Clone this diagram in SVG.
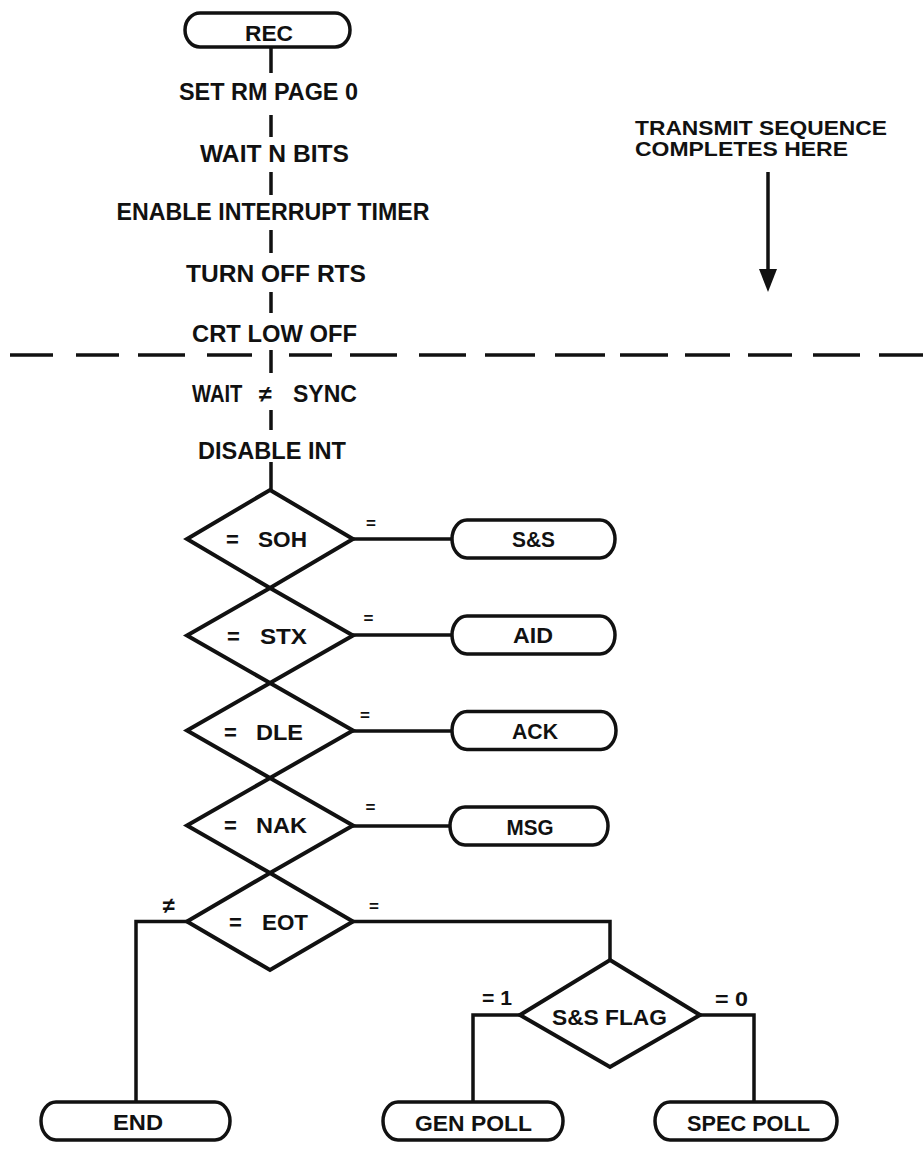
<svg xmlns="http://www.w3.org/2000/svg" width="923" height="1150" viewBox="0 0 923 1150">
<style>
text{font-family:"Liberation Sans",Arial,Helvetica,sans-serif;font-weight:bold;fill:#111;}
.t{font-size:23.5px;text-anchor:middle;}
.n{font-size:22px;text-anchor:middle;}
.d{font-size:22px;}
.s{font-size:17px;text-anchor:middle;}
.term{fill:#fff;stroke:#111;stroke-width:3.5;}
.dia{fill:#fff;stroke:#111;stroke-width:4;stroke-linejoin:miter;}
.ln{fill:none;stroke:#111;stroke-width:3.5;}
</style>
<rect width="923" height="1150" fill="#fff"/>
<g id="separator">
<path class="ln" d="M10 355H53M76 355H119M138 355H185M207 355H252M289 355H332M350 355H397M419 355H466M485 355H535M555 355H605M620 355H668M685 355H730M748 355H792M813 355H860M879 355H923"/>
</g>
<g id="connectors">
<path class="ln" d="M271 47V73M271 115V137M271 172V195M271 230V253M271 292V313M271 350V373M271 410V430M271 462V490"/>
<path class="ln" d="M353 539H452M353 635H452M353 731H452M353 826H450"/>
<path class="ln" d="M353 921.5H610V960"/>
<path class="ln" d="M187 921.5H136V1102"/>
<path class="ln" d="M520 1015H473V1102"/>
<path class="ln" d="M700 1015H754V1102"/>
<path class="ln" d="M768 172V272"/>
<polygon points="759,269 777,269 768,292" fill="#111"/>
<text class="s" x="371" y="529">=</text>
<text class="s" x="368.5" y="624">=</text>
<text class="s" x="365" y="721">=</text>
<text class="s" x="370.5" y="813">=</text>
<text class="s" x="374" y="912">=</text>
<text class="n" x="168.5" y="913">≠</text>
<text x="497" y="1005" style="font-size:20px;text-anchor:middle" textLength="30" lengthAdjust="spacingAndGlyphs">= 1</text>
<text x="731.5" y="1006" style="font-size:20px;text-anchor:middle" textLength="33" lengthAdjust="spacingAndGlyphs">= 0</text>
</g>
<g id="rec"><rect class="term" x="185" y="13" width="165" height="34" rx="15" ry="17"/><text class="n" x="269" y="41" textLength="48" lengthAdjust="spacingAndGlyphs">REC</text></g>
<g id="set-rm"><text class="t" x="268.5" y="100" textLength="179" lengthAdjust="spacingAndGlyphs">SET RM PAGE 0</text></g>
<g id="wait-n"><text class="t" x="274.5" y="162" textLength="149" lengthAdjust="spacingAndGlyphs">WAIT N BITS</text></g>
<g id="enable"><text class="t" x="273" y="220" textLength="313" lengthAdjust="spacingAndGlyphs">ENABLE INTERRUPT TIMER</text></g>
<g id="turn-off"><text class="t" x="276" y="282" textLength="180" lengthAdjust="spacingAndGlyphs">TURN OFF RTS</text></g>
<g id="crt-low"><text class="t" x="274.5" y="342" textLength="165" lengthAdjust="spacingAndGlyphs">CRT LOW OFF</text></g>
<g id="wait-sync"><text class="d" y="402" style="font-size:23.5px"><tspan x="192" textLength="56" lengthAdjust="spacingAndGlyphs">WAIT </tspan><tspan x="259">≠ </tspan><tspan x="293" textLength="64" lengthAdjust="spacingAndGlyphs">SYNC</tspan></text></g>
<g id="disable"><text class="t" x="272" y="459" textLength="148" lengthAdjust="spacingAndGlyphs">DISABLE INT</text></g>
<g id="transmit"><text x="635" y="135" style="font-size:21px" textLength="252" lengthAdjust="spacingAndGlyphs">TRANSMIT SEQUENCE</text><text x="635" y="156" style="font-size:21px" textLength="213" lengthAdjust="spacingAndGlyphs">COMPLETES HERE</text></g>
<g id="soh"><polygon class="dia" points="270,490 353,539 270,588 187,539"/><text class="d" x="226" y="547">=</text><text class="d" x="258" y="547" textLength="49" lengthAdjust="spacingAndGlyphs">SOH</text></g>
<g id="stx"><polygon class="dia" points="270,588 353,635.5 270,683 187,635.5"/><text class="d" x="227" y="644">=</text><text class="d" x="260" y="644" textLength="47" lengthAdjust="spacingAndGlyphs">STX</text></g>
<g id="dle"><polygon class="dia" points="270,683 353,730.5 270,778 187,730.5"/><text class="d" x="224" y="740">=</text><text class="d" x="256" y="740" textLength="47" lengthAdjust="spacingAndGlyphs">DLE</text></g>
<g id="nak"><polygon class="dia" points="270,778 353,825.5 270,873 187,825.5"/><text class="d" x="224" y="833">=</text><text class="d" x="256" y="833" textLength="51" lengthAdjust="spacingAndGlyphs">NAK</text></g>
<g id="eot"><polygon class="dia" points="270,873 353,921.5 270,970 187,921.5"/><text class="d" x="229" y="930">=</text><text class="d" x="262" y="930" textLength="46" lengthAdjust="spacingAndGlyphs">EOT</text></g>
<g id="ss"><rect class="term" x="452" y="520" width="163" height="38" rx="15" ry="19"/><text class="n" x="533.5" y="547" textLength="43" lengthAdjust="spacingAndGlyphs">S&amp;S</text></g>
<g id="aid"><rect class="term" x="452" y="616" width="163" height="38" rx="15" ry="19"/><text class="n" x="533" y="643" textLength="40" lengthAdjust="spacingAndGlyphs">AID</text></g>
<g id="ack"><rect class="term" x="452" y="711.5" width="164" height="38" rx="15" ry="19"/><text class="n" x="535" y="739" textLength="46" lengthAdjust="spacingAndGlyphs">ACK</text></g>
<g id="msg"><rect class="term" x="450" y="807" width="158" height="38" rx="15" ry="19"/><text class="n" x="530" y="835" textLength="47" lengthAdjust="spacingAndGlyphs">MSG</text></g>
<g id="ssflag"><polygon class="dia" points="610,960 700,1015 610,1067 520,1015"/><text class="n" x="609.5" y="1025" textLength="115" lengthAdjust="spacingAndGlyphs">S&amp;S FLAG</text></g>
<g id="end"><rect class="term" x="41" y="1102" width="189" height="38" rx="15" ry="19"/><text class="n" x="138" y="1130" textLength="50" lengthAdjust="spacingAndGlyphs">END</text></g>
<g id="genpoll"><rect class="term" x="383" y="1102" width="180" height="38" rx="15" ry="19"/><text class="n" x="473.5" y="1131" textLength="117" lengthAdjust="spacingAndGlyphs">GEN POLL</text></g>
<g id="specpoll"><rect class="term" x="655" y="1102" width="182" height="38" rx="15" ry="19"/><text class="n" x="748.5" y="1131" textLength="123" lengthAdjust="spacingAndGlyphs">SPEC POLL</text></g>
</svg>
